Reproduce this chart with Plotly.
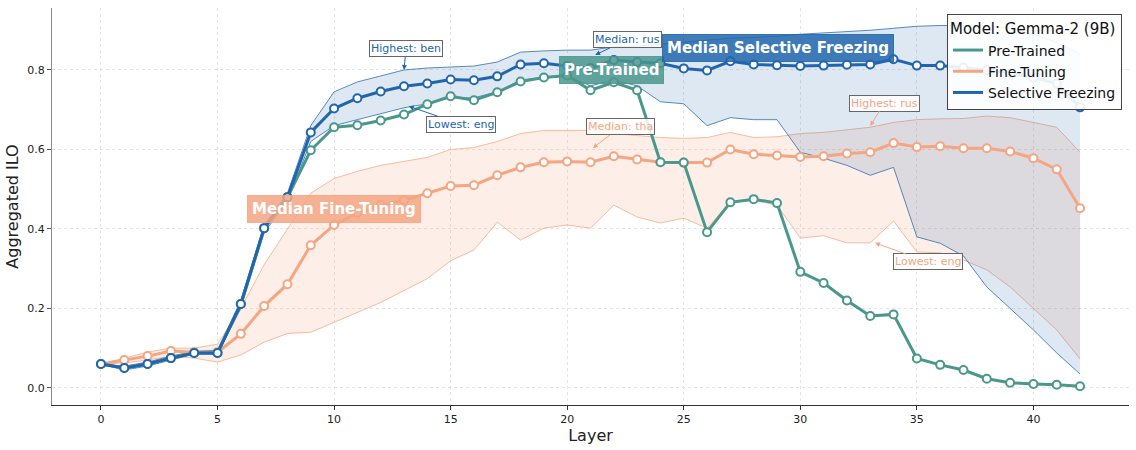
import plotly.graph_objects as go

layers = list(range(43))

# median curves
pre_trained = [0.060, 0.050, 0.060, 0.075, 0.088, 0.088, 0.211, 0.402, 0.480, 0.598,
               0.656, 0.661, 0.673, 0.688, 0.714, 0.734, 0.724, 0.744, 0.771, 0.781,
               0.786, 0.749, 0.769, 0.749, 0.568, 0.567, 0.392, 0.467, 0.475, 0.465,
               0.292, 0.264, 0.220, 0.181, 0.185, 0.074, 0.058, 0.045, 0.023, 0.013,
               0.010, 0.008, 0.004]
fine_tuning = [0.060, 0.070, 0.080, 0.093, 0.090, 0.090, 0.136, 0.206, 0.261, 0.359,
               0.410, 0.440, 0.460, 0.472, 0.490, 0.508, 0.510, 0.535, 0.555, 0.568,
               0.570, 0.568, 0.583, 0.575, 0.568, 0.567, 0.567, 0.600, 0.588, 0.585,
               0.581, 0.583, 0.590, 0.593, 0.616, 0.606, 0.608, 0.603, 0.603, 0.595,
               0.578, 0.550, 0.452]
sel_freeze = [0.060, 0.050, 0.060, 0.075, 0.088, 0.088, 0.211, 0.402, 0.480, 0.643,
              0.703, 0.729, 0.746, 0.759, 0.766, 0.776, 0.774, 0.784, 0.814, 0.817,
              0.810, 0.805, 0.825, 0.820, 0.817, 0.804, 0.799, 0.822, 0.814, 0.812,
              0.810, 0.811, 0.813, 0.814, 0.827, 0.811, 0.811, 0.806, 0.800, 0.792,
              0.781, 0.766, 0.706]

# language range (highest / lowest) for each model
ft_high = [0.060, 0.075, 0.090, 0.100, 0.100, 0.110, 0.200, 0.310, 0.400, 0.490,
           0.527, 0.545, 0.560, 0.570, 0.580, 0.600, 0.605, 0.620, 0.640, 0.648,
           0.648, 0.648, 0.640, 0.635, 0.630, 0.628, 0.630, 0.643, 0.630, 0.632,
           0.640, 0.643, 0.650, 0.656, 0.668, 0.675, 0.677, 0.678, 0.684, 0.680,
           0.668, 0.656, 0.593]
ft_low = [0.060, 0.063, 0.070, 0.080, 0.075, 0.065, 0.083, 0.115, 0.137, 0.140,
          0.165, 0.190, 0.215, 0.245, 0.275, 0.320, 0.347, 0.417, 0.372, 0.402,
          0.410, 0.402, 0.460, 0.430, 0.415, 0.427, 0.402, 0.467, 0.472, 0.460,
          0.377, 0.383, 0.365, 0.365, 0.420, 0.342, 0.340, 0.322, 0.297, 0.254,
          0.200, 0.146, 0.073]
sf_high = [0.060, 0.055, 0.065, 0.080, 0.092, 0.095, 0.220, 0.410, 0.490, 0.660,
           0.745, 0.770, 0.785, 0.800, 0.805, 0.808, 0.810, 0.820, 0.845, 0.848,
           0.850, 0.850, 0.858, 0.860, 0.865, 0.870, 0.875, 0.880, 0.882, 0.885,
           0.890, 0.893, 0.897, 0.900, 0.905, 0.910, 0.912, 0.912, 0.912, 0.905,
           0.890, 0.870, 0.840]
sf_low = [0.060, 0.045, 0.055, 0.070, 0.085, 0.085, 0.200, 0.390, 0.470, 0.620,
          0.660, 0.675, 0.690, 0.705, 0.715, 0.730, 0.730, 0.745, 0.775, 0.780,
          0.785, 0.760, 0.775, 0.760, 0.720, 0.715, 0.660, 0.680, 0.675, 0.675,
          0.593, 0.578, 0.560, 0.535, 0.555, 0.380, 0.364, 0.332, 0.254, 0.200,
          0.146, 0.088, 0.035]

TEAL = "#4a978c"
ORANGE = "#f4a582"
BLUE = "#2166ac"
FONT = "DejaVu Sans"

fig = go.Figure()

# bands
for low, high, edge, fill in [
    (ft_low, ft_high, "rgba(244,165,130,0.75)", "rgba(244,165,130,0.18)"),
    (sf_low, sf_high, "rgba(33,102,172,0.75)", "rgba(33,102,172,0.15)"),
]:
    fig.add_trace(go.Scatter(x=layers, y=low, mode="lines",
                             line=dict(color=edge, width=1), showlegend=False,
                             hoverinfo="skip"))
    fig.add_trace(go.Scatter(x=layers, y=high, mode="lines", fill="tonexty",
                             fillcolor=fill, line=dict(color=edge, width=1),
                             showlegend=False, hoverinfo="skip"))

# median lines
for ys, color in [(fine_tuning, ORANGE), (pre_trained, TEAL), (sel_freeze, BLUE)]:
    fig.add_trace(go.Scatter(
        x=layers, y=ys, mode="lines+markers",
        line=dict(color=color, width=3),
        marker=dict(size=8, color="white", line=dict(color=color, width=2)),
        showlegend=False))

# legend entries (lines only)
for name, color in [("Pre-Trained", TEAL), ("Fine-Tuning", ORANGE),
                    ("Selective Freezing", BLUE)]:
    fig.add_trace(go.Scatter(x=[None], y=[None], mode="lines", name=name,
                             line=dict(color=color, width=3)))

# small language callouts
def callout(text, x, y, ax, ay, color):
    fig.add_annotation(x=x, y=y, ax=ax, ay=ay, text=text,
                       font=dict(family=FONT, size=11, color=color),
                       showarrow=True, arrowhead=2, arrowsize=1, arrowwidth=1,
                       arrowcolor=color, bgcolor="rgba(255,255,255,0.85)",
                       bordercolor="#666", borderwidth=1, borderpad=1)

callout("Highest: ben", 13, sf_high[13], 2, -21, BLUE)
callout("Lowest: eng", 13.2, 0.709, 52, 18, BLUE)
callout("Median: rus", 21.2, 0.838, 32, -15, BLUE)
callout("Median: tha", 21.1, 0.604, 28, -21, ORANGE)
callout("Highest: rus", 33, 0.659, 14, -23, ORANGE)
callout("Lowest: eng", 33.2, ft_low[33], 53, 19, ORANGE)

# big labels
for text, x, y, bg in [
    ("Median Fine-Tuning", 10.0, 0.450, "rgba(244,165,130,0.85)"),
    ("Pre-Trained", 21.9, 0.800, "rgba(74,151,140,0.85)"),
    ("Median Selective Freezing", 29.05, 0.855, "rgba(33,102,172,0.85)"),
]:
    fig.add_annotation(x=x, y=y, text="<b>" + text + "</b>", showarrow=False,
                       font=dict(family=FONT, size=15, color="white"),
                       bgcolor=bg, bordercolor=bg, borderwidth=1, borderpad=4)

fig.update_layout(
    width=1136, height=450,
    margin=dict(l=52, r=7, t=8, b=45),
    plot_bgcolor="white", paper_bgcolor="white",
    font=dict(family=FONT, size=11, color="#222"),
    legend=dict(
        title=dict(text="Model: Gemma-2 (9B)", font=dict(size=15, color="#111")),
        font=dict(size=14, color="#111"),
        traceorder="normal",
        x=0.9935, y=0.985, xanchor="right", yanchor="top",
        bgcolor="rgba(255,255,255,0.9)", bordercolor="#444", borderwidth=1,
    ),
)
fig.update_xaxes(
    range=[-2.1, 44.1], tickvals=[0, 5, 10, 15, 20, 25, 30, 35, 40],
    title=dict(text="Layer", font=dict(size=16), standoff=2),
    automargin=False,
    showline=True, linecolor="#333", linewidth=1.2,
    ticks="outside", ticklen=4, tickcolor="#333",
    showgrid=True, gridcolor="#e4e4e4", griddash="dot", zeroline=False,
)
fig.update_yaxes(
    range=[-0.043, 0.956], tickvals=[0, 0.2, 0.4, 0.6, 0.8], tickformat=".1f",
    title=dict(text="Aggregated ILO", font=dict(size=16), standoff=4),
    automargin=False,
    showline=True, linecolor="#888", linewidth=1.2,
    ticks="outside", ticklen=4, tickcolor="#555",
    showgrid=True, gridcolor="#e4e4e4", griddash="dot", zeroline=False,
)

fig.write_html("out.html", config={"displayModeBar": False},
               post_script="document.body.style.margin='0px';")
